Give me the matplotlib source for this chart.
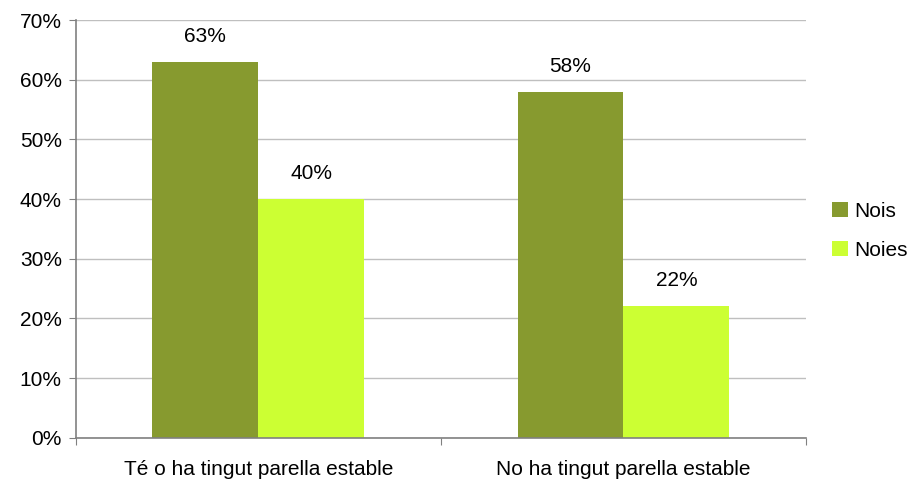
import matplotlib
matplotlib.use("Agg")
import matplotlib.pyplot as plt
import numpy as np

categories = ["Té o ha tingut parella estable", "No ha tingut parella estable"]
series_names = ["Nois", "Noies"]
nois = [63, 58]
noies = [40, 22]
colors = ["#879a2f", "#ccff33"]

plt.rcParams['font.family'] = ['Liberation Sans', 'DejaVu Sans']
FS = 15

fig = plt.figure(figsize=(9.11, 4.82), dpi=100)
ax = fig.add_axes([0.0831, 0.0919, 0.8017, 0.8666])

x = np.arange(len(categories))
w = 0.29
b1 = ax.bar(x - w/2, nois, w, color=colors[0], label=series_names[0], zorder=2)
b2 = ax.bar(x + w/2, noies, w, color=colors[1], label=series_names[1], zorder=2)

for bars in (b1, b2):
    for r in bars:
        ax.annotate(f"{r.get_height():.0f}%", (r.get_x() + r.get_width()/2, r.get_height()),
                    xytext=(0, 16), textcoords="offset pixels", ha="center", va="bottom",
                    fontsize=FS)

ax.set_xlim(-0.5, 1.5)
ax.set_ylim(0, 70)
ax.set_yticks(np.arange(0, 71, 10))
ax.set_yticklabels([f"{v}%" for v in range(0, 71, 10)], fontsize=FS)
ax.yaxis.grid(True, color="#bfbfbf", linewidth=1, zorder=0)
ax.set_axisbelow(True)

ax.set_xticks([-0.5, 0.5, 1.5])
ax.set_xticklabels([])
ax.set_xticks(x, minor=True)
ax.set_xticklabels(categories, minor=True, fontsize=FS)
ax.tick_params(axis="x", which="minor", length=0, pad=16)
ax.tick_params(axis="x", which="major", length=5, color="#808080")
ax.tick_params(axis="y", length=5, color="#808080", pad=5)

for s in ["top", "right"]:
    ax.spines[s].set_visible(False)
for s in ["left", "bottom"]:
    ax.spines[s].set_color("#808080")
    ax.spines[s].set_linewidth(1.2)

leg = ax.legend(loc="center left", bbox_to_anchor=(1.024, 0.495), frameon=False,
                fontsize=FS, handlelength=0.75, handleheight=0.75, handletextpad=0.3,
                labelspacing=0.95, borderaxespad=0)

fig.savefig("out.png", dpi=100)
